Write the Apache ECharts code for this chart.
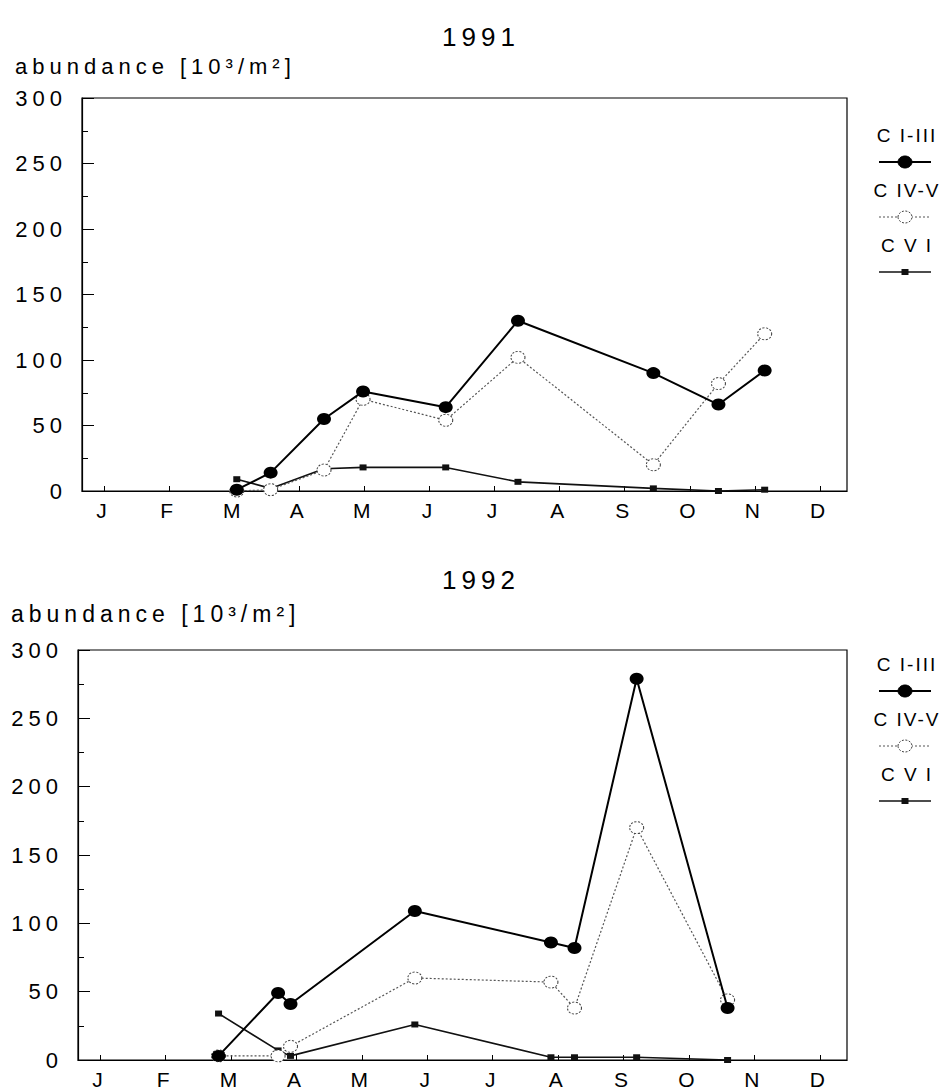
<!DOCTYPE html>
<html>
<head>
<meta charset="utf-8">
<script src="https://cdn.jsdelivr.net/npm/echarts@6/dist/echarts.min.js"></script>
<style>
  html, body { margin: 0; padding: 0; background: #fff; }
  #chart { width: 946px; height: 1091px; }
  #chart svg text { letter-spacing: 5px; }
</style>
</head>
<body>
<div id="chart"></div>
<script>
// ---- data (month position: 1 = J ... 12 = D) ----
const monthLabels = ['J','F','M','A','M','J','J','A','S','O','N','D'];
const monthTicks = [1,2,3,4,5,6,7,8,9,10,11,12];
const seriesNames = ['C I-III', 'C IV-V', 'C V I'];
const titles = ['1991', '1992'];
const yName = 'abundance [10³/m²]';

const x1991 = [3.04, 3.56, 4.38, 4.98, 6.25, 7.36, 9.44, 10.44, 11.15];
const c13_1991 = [1, 14, 55, 76, 64, 130, 90, 66, 92];
const c45_1991 = [0, 1, 16, 70, 54, 102, 20, 82, 120];
const c6_1991  = [9, 2, 17, 18, 18, 7, 2, 0, 1];

const x1992 = [2.81, 3.72, 3.91, 5.81, 7.89, 8.25, 9.2, 10.59];
const c13_1992 = [3, 49, 41, 109, 86, 82, 279, 38];
const c45_1992 = [3, 3, 10, 60, 57, 38, 170, 44];
const c6_1992  = [34, 7, 3, 26, 2, 2, 2, 0];

const FONT = 'Liberation Sans, Arial, Helvetica, sans-serif';

function pairs(xs, ys) { return xs.map((x, i) => [x, ys[i]]); }

const chart = echarts.init(document.getElementById('chart'), null, { renderer: 'svg' });

const grids = [
  { left: 82, top: 98, width: 765, height: 393 },
  { left: 78, top: 650, width: 769, height: 410 }
];

function xAxis(gi) {
  return {
    type: 'value', gridIndex: gi, min: 0.662, max: 12.415,
    axisLine: { show: true, onZero: false, lineStyle: { color: '#000', width: 1.2 } },
    axisTick: { show: true, inside: true, length: 5, customValues: monthTicks, lineStyle: { color: '#000' } },
    axisLabel: {
      show: true, customValues: monthTicks, margin: 9,
      formatter: v => monthLabels[Math.round(v) - 1] || '',
      color: '#000', fontSize: 21, fontFamily: FONT
    },
    splitLine: { show: false }
  };
}
function yAxis(gi) {
  return {
    type: 'value', gridIndex: gi, min: 0, max: 300, interval: 50,
    axisLine: { show: true, lineStyle: { color: '#000', width: 1.2 } },
    axisTick: { show: true, inside: true, length: 12, lineStyle: { color: '#000' } },
    minorTick: { show: true, splitNumber: 2, length: 6, lineStyle: { color: '#000' } },
    axisLabel: { color: '#000', fontSize: 22, fontFamily: FONT, margin: 15 },
    splitLine: { show: false }
  };
}

const styleC13 = {
  type: 'line', symbol: 'circle', symbolSize: [14, 12],
  lineStyle: { color: '#000', width: 2 },
  itemStyle: { color: '#000' }
};
const styleC45 = {
  type: 'line', symbol: 'circle', symbolSize: [14, 12],
  lineStyle: { color: '#555', width: 1.2, type: [2, 2] },
  itemStyle: { color: '#fff', borderColor: '#444', borderWidth: 1, borderType: [2, 1.5] }
};
const styleC6 = {
  type: 'line', symbol: 'rect', symbolSize: [7, 6],
  lineStyle: { color: '#111', width: 1.6 },
  itemStyle: { color: '#111' }
};

function mk(base, name, gi, data, z) {
  return Object.assign({}, base, { name: name, xAxisIndex: gi, yAxisIndex: gi, data: data, z: z, animation: false });
}

// legend samples + texts (drawn as graphics)
function legendGraphics(textYs, cx) {
  const g = [];
  const styles = [
    { line: { stroke: '#000', lineWidth: 2 }, sym: { type: 'ellipse', fill: '#000', stroke: '#000' } },
    { line: { stroke: '#555', lineWidth: 1.2, lineDash: [2, 2] }, sym: { type: 'ellipse', fill: '#fff', stroke: '#444', lineDash: [2, 1.5] } },
    { line: { stroke: '#111', lineWidth: 1.6 }, sym: { type: 'rect', fill: '#111', stroke: '#111' } }
  ];
  textYs.forEach((ty, i) => {
    g.push({ type: 'text', x: cx + 2, y: ty, style: { text: seriesNames[i], fill: '#000', font: '19px ' + FONT, textAlign: 'center', textVerticalAlign: 'middle' } });
    const ly = ty + 27;
    g.push({ type: 'line', shape: { x1: cx - 26, y1: ly, x2: cx + 26, y2: ly }, style: styles[i].line });
    if (styles[i].sym.type === 'ellipse') {
      g.push({ type: 'ellipse', shape: { cx: cx, cy: ly, rx: 7, ry: 6 }, style: { fill: styles[i].sym.fill, stroke: styles[i].sym.stroke, lineDash: styles[i].sym.lineDash || null, lineWidth: 1 } });
    } else {
      g.push({ type: 'rect', shape: { x: cx - 3.5, y: ly - 3, width: 7, height: 6 }, style: { fill: styles[i].sym.fill } });
    }
  });
  return g;
}

const graphics = [
  { type: 'text', x: 481, y: 37, style: { text: titles[0], fill: '#000', font: '26px ' + FONT, textAlign: 'center', textVerticalAlign: 'middle' } },
  { type: 'text', x: 481, y: 580, style: { text: titles[1], fill: '#000', font: '26px ' + FONT, textAlign: 'center', textVerticalAlign: 'middle' } },
  { type: 'text', x: 15, y: 66, style: { text: yName, fill: '#000', font: '22px ' + FONT, textAlign: 'left', textVerticalAlign: 'middle' } },
  { type: 'text', x: 11, y: 614, style: { text: yName, fill: '#000', font: '23px ' + FONT, textAlign: 'left', textVerticalAlign: 'middle' } }
].concat(legendGraphics([135, 190, 245], 905)).concat(legendGraphics([664, 719, 774], 905));

chart.setOption({
  backgroundColor: '#fff',
  animation: false,
  grid: grids.map(g => Object.assign({ show: true, borderColor: '#000', borderWidth: 1.2, backgroundColor: 'transparent', outerBoundsMode: 'none', containLabel: false }, g)),
  xAxis: [xAxis(0), xAxis(1)],
  yAxis: [yAxis(0), yAxis(1)],
  series: [
    mk(styleC6, seriesNames[2], 0, pairs(x1991, c6_1991), 3),
    mk(styleC45, seriesNames[1], 0, pairs(x1991, c45_1991), 4),
    mk(styleC13, seriesNames[0], 0, pairs(x1991, c13_1991), 5),
    mk(styleC6, seriesNames[2], 1, pairs(x1992, c6_1992), 3),
    mk(styleC45, seriesNames[1], 1, pairs(x1992, c45_1992), 4),
    mk(styleC13, seriesNames[0], 1, pairs(x1992, c13_1992), 5)
  ],
  graphic: graphics
});

// tighter letter spacing for the legend labels
function tightenLegend() {
  document.querySelectorAll('#chart svg text').forEach(t => {
    if (seriesNames.indexOf(t.textContent) >= 0) t.style.letterSpacing = '2px';
  });
}
tightenLegend();
chart.on('finished', tightenLegend);
setTimeout(tightenLegend, 50);
</script>
</body>
</html>
